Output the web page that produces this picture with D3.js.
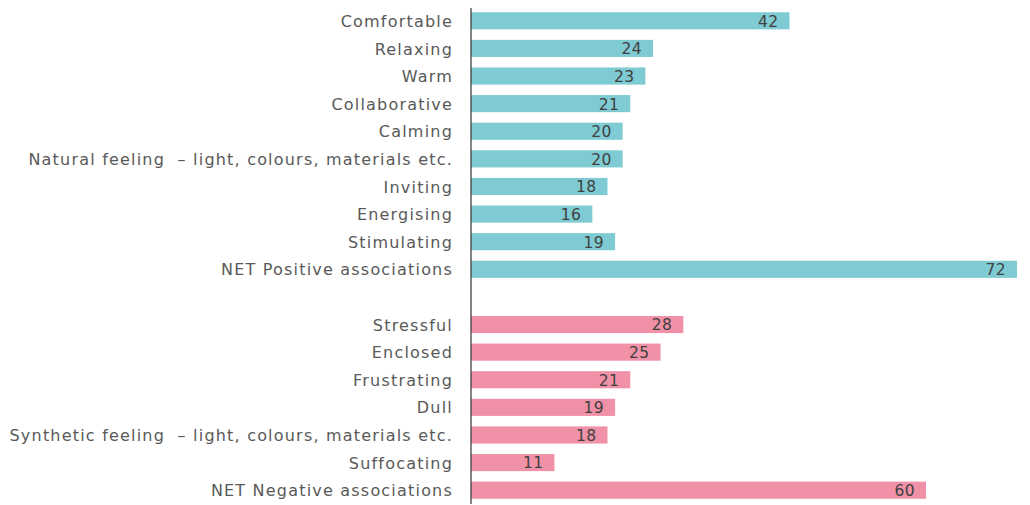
<!DOCTYPE html>
<html>
<head>
<meta charset="utf-8">
<script src="https://cdn.jsdelivr.net/npm/d3@7"></script>
<style>
  html, body { margin: 0; padding: 0; background: #fff; }
  svg { display: block; }
  text { font-family: "DejaVu Sans", sans-serif; white-space: pre; }
</style>
</head>
<body>
<svg id="chart" width="1030" height="505"></svg>
<script>
const positiveCategories = ["Comfortable", "Relaxing", "Warm", "Collaborative", "Calming",
  "Natural feeling  \u2013 light, colours, materials etc.", "Inviting", "Energising", "Stimulating",
  "NET Positive associations"];
const positiveValues = [42, 24, 23, 21, 20, 20, 18, 16, 19, 72];
const negativeCategories = ["Stressful", "Enclosed", "Frustrating", "Dull",
  "Synthetic feeling  \u2013 light, colours, materials etc.", "Suffocating", "NET Negative associations"];
const negativeValues = [28, 25, 21, 19, 18, 11, 60];

const GAP = "__gap__";
const rows = [
  ...positiveCategories.map((c, i) => ({ cat: c, value: positiveValues[i], group: "pos" })),
  ...negativeCategories.map((c, i) => ({ cat: c, value: negativeValues[i], group: "neg" }))
];
const domain = [...positiveCategories, GAP, ...negativeCategories];

const svg = d3.select("#chart");
const x0 = 471, x1 = 1017;
const x = d3.scaleLinear().domain([0, 72]).range([x0, x1]);
const y = d3.scaleBand().domain(domain).range([7, 504]).paddingInner(0.38).paddingOuter(0.19);
const color = { pos: "#7fcbd3", neg: "#f191a7" };

svg.append("g").selectAll("rect").data(rows).join("rect")
  .attr("x", x(0))
  .attr("y", d => y(d.cat))
  .attr("width", d => x(d.value) - x(0))
  .attr("height", y.bandwidth())
  .attr("fill", d => color[d.group]);

svg.append("g").selectAll("text").data(rows).join("text")
  .attr("x", d => x(d.value) - 11)
  .attr("y", d => y(d.cat) + y.bandwidth() / 2)
  .attr("dy", "0.38em")
  .attr("text-anchor", "end")
  .attr("font-size", 15.5)
  .attr("letter-spacing", 0.4)
  .attr("fill", "#404040")
  .text(d => d.value);

const axis = d3.axisLeft(y).tickSize(0).tickPadding(18)
  .tickFormat(d => d === GAP ? "" : d);
const gA = svg.append("g").attr("transform", `translate(${x0},0)`).call(axis);
gA.select(".domain").remove();
gA.selectAll("text")
  .attr("font-size", 16)
  .attr("letter-spacing", 1.2)
  .attr("fill", "#595959")
  .attr("dy", "0.38em")
  .style("font-family", '"DejaVu Sans", sans-serif')
  .style("white-space", "pre");

svg.append("line")
  .attr("x1", x0).attr("x2", x0)
  .attr("y1", 8).attr("y2", 504)
  .attr("stroke", "#333").attr("stroke-width", 1.2);
</script>
</body>
</html>
